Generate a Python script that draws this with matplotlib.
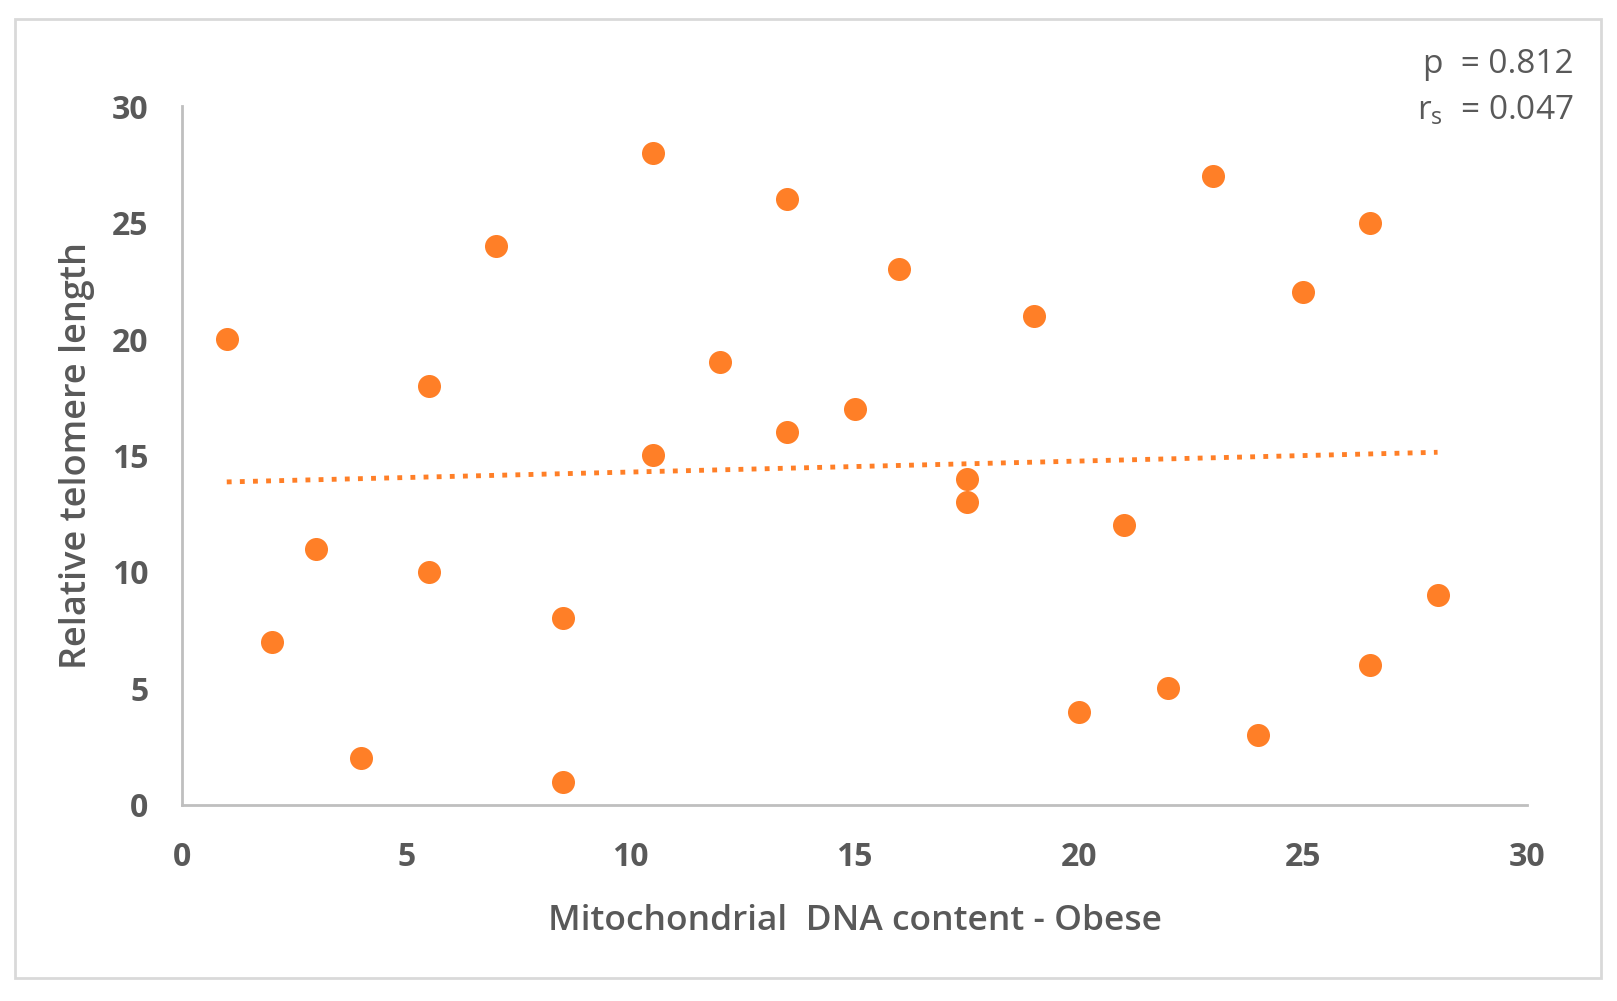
import numpy as np
import matplotlib.pyplot as plt
from matplotlib.patches import Rectangle

# mtDNA content rank (obese) vs relative telomere length rank
mtdna = [1, 2, 3, 4, 5.5, 5.5, 7, 8.5, 8.5, 10.5, 10.5, 12, 13.5, 13.5,
         15, 16, 17.5, 17.5, 19, 20, 21, 22, 23, 24, 25, 26.5, 26.5, 28]
telomere = [20, 7, 11, 2, 18, 10, 24, 8, 1, 28, 15, 19, 26, 16,
            17, 23, 14, 13, 21, 4, 12, 5, 27, 3, 22, 25, 6, 9]
xticks = [0, 5, 10, 15, 20, 25, 30]
yticks = [0, 5, 10, 15, 20, 25, 30]

orange = "#FF7F27"
gray = "#595959"
axcol = "#BFBFBF"

plt.rcParams['font.family'] = ['Open Sans', 'DejaVu Sans']

fig = plt.figure(figsize=(16.17, 10.01), dpi=100)
ax = fig.add_axes([0.1125, 0.196, 0.832, 0.698])

ax.scatter(mtdna, telomere, s=275, color=orange, zorder=3, linewidths=0)

# linear trend line
slope, icpt = np.polyfit(mtdna, telomere, 1)
xl = np.array([min(mtdna), max(mtdna)])
ax.plot(xl, slope * xl + icpt, color=orange, lw=3.5, linestyle=(0, (1, 1.7)),
        dash_capstyle='butt', zorder=2)

ax.set_xlim(0, 30)
ax.set_ylim(0, 30)
ax.set_xticks(xticks)
ax.set_yticks(yticks)
ax.tick_params(length=0, labelsize=23, labelcolor=gray)
ax.tick_params(axis='y', pad=24)
ax.tick_params(axis='x', pad=26)
for lab in ax.get_xticklabels() + ax.get_yticklabels():
    lab.set_fontweight('bold')

for s in ['top', 'right']:
    ax.spines[s].set_visible(False)
for s in ['left', 'bottom']:
    ax.spines[s].set_color(axcol)
    ax.spines[s].set_linewidth(2)

ax.set_xlabel("Mitochondrial  DNA content - Obese", fontsize=25.5, color=gray,
              fontweight='semibold', labelpad=22)
ax.set_ylabel("Relative telomere length", fontsize=26, color=gray,
              fontweight='semibold', labelpad=12)

fig.text(0.973, 0.936, "p  = 0.812", ha='right', va='center', fontsize=24, color=gray)
fig.text(0.973, 0.890, r"r$_\mathregular{s}$  = 0.047", ha='right', va='center',
         fontsize=24, color=gray)

# light border round the chart
fig.patches.append(Rectangle((0.0093, 0.023), 0.981, 0.958, transform=fig.transFigure,
                             fill=False, edgecolor="#D9D9D9", lw=2))

fig.savefig("out.png", dpi=100)
